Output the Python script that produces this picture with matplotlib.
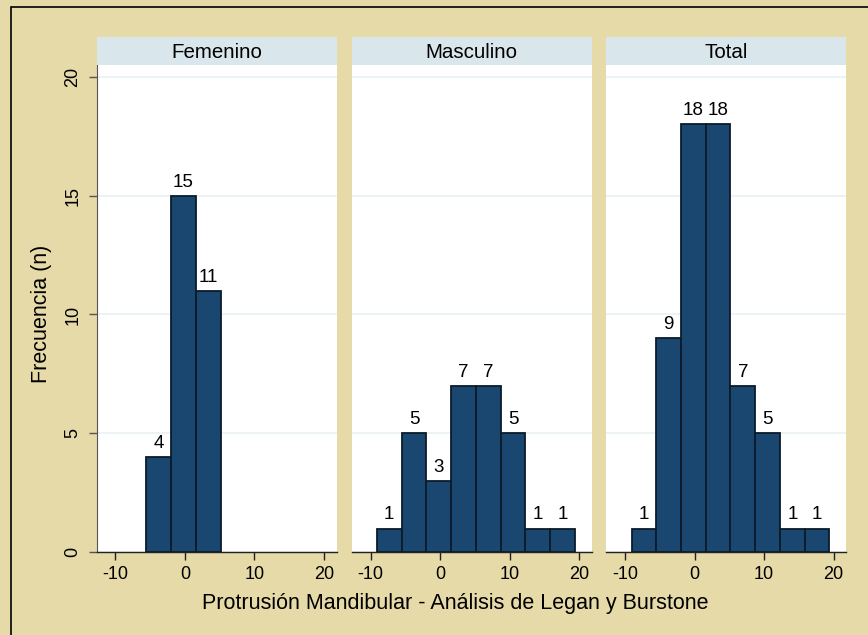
import numpy as np
import matplotlib.pyplot as plt
from matplotlib.patches import Rectangle

plt.rcParams["font.family"] = ["Liberation Sans", "DejaVu Sans"]

# histogram bins (8 bins from the sample minimum to maximum)
bin_start = -9.1
bin_width = 3.5625
n_bins = 8

panels = ["Femenino", "Masculino", "Total"]
femenino = [0, 4, 15, 11, 0, 0, 0, 0]
masculino = [1, 5, 3, 7, 7, 5, 1, 1]
total = [1, 9, 18, 18, 7, 5, 1, 1]
counts = [femenino, masculino, total]

x_ticks = [-10, 0, 10, 20]
y_ticks = [0, 5, 10, 15, 20]

bg = "#E6DAA8"
strip_col = "#D9E6EB"
grid_col = "#EAF2F3"
bar_col = "#1A476F"
edge_col = "#0B1B2B"

W, H = 868, 635
fig = plt.figure(figsize=(W / 100, H / 100), dpi=100, facecolor=bg)

# outer frame
fig.patches.append(Rectangle((11 / W, -0.1), 1.2, (H - 7) / H + 0.1,
                             transform=fig.transFigure, fill=False,
                             edgecolor="black", linewidth=1.2))

lefts = [96.5, 351.7, 606.3]
pw = 240.0
top, bottom = 65.0, 552.3
strip_top = 37.3

edges = bin_start + bin_width * np.arange(n_bins + 1)

for i, (name, c) in enumerate(zip(panels, counts)):
    ax = fig.add_axes([lefts[i] / W, (H - bottom) / H, pw / W, (bottom - top) / H])
    ax.set_facecolor("white")
    ax.set_xlim(-12.73, 21.83)
    ax.set_ylim(0, 20.49)
    for y in y_ticks:
        ax.axhline(y, color=grid_col, linewidth=1.3, zorder=0)
    c = np.array(c)
    m = c > 0
    ax.bar(edges[:-1][m], c[m], width=bin_width, align="edge", color=bar_col,
           edgecolor=edge_col, linewidth=1.3, zorder=2)
    for xl, h in zip(edges[:-1][m] + bin_width / 2, c[m]):
        ax.annotate(str(h), (xl, h), xytext=(0, 6.5), textcoords="offset points",
                    ha="center", va="baseline", fontsize=13.5)
    for s in ["top", "right"]:
        ax.spines[s].set_visible(False)
    ax.spines["bottom"].set_color("#222222")
    ax.spines["bottom"].set_linewidth(1.0)
    ax.set_xticks(x_ticks)
    ax.set_xticklabels([str(v) for v in x_ticks])
    ax.tick_params(axis="x", length=6, width=1.0, color="#222222", labelsize=13, pad=4)
    if i == 0:
        ax.spines["left"].set_color("#555555")
        ax.set_yticks(y_ticks)
        ax.set_yticklabels([str(v) for v in y_ticks], rotation=90, va="center")
        ax.tick_params(axis="y", length=6, width=1.0, color="#555555", labelsize=13, pad=5)
    else:
        ax.spines["left"].set_visible(False)
        ax.set_yticks([])

    # panel strip
    sax = fig.add_axes([lefts[i] / W, (H - top) / H, pw / W, (top - strip_top) / H])
    sax.set_facecolor(strip_col)
    sax.set_xticks([])
    sax.set_yticks([])
    for s in sax.spines.values():
        s.set_visible(False)
    sax.text(0.5, 0.45, name, ha="center", va="center", fontsize=14.8, transform=sax.transAxes)

fig.text(42 / W, 1 - 314 / H, "Frecuencia (n)", rotation=90, ha="center", va="center", fontsize=15.5)
fig.text(455 / W, 1 - 604 / H, "Protrusión Mandibular - Análisis de Legan y Burstone",
         ha="center", va="center", fontsize=15.5)

fig.savefig("out.png", dpi=100, facecolor=bg)
